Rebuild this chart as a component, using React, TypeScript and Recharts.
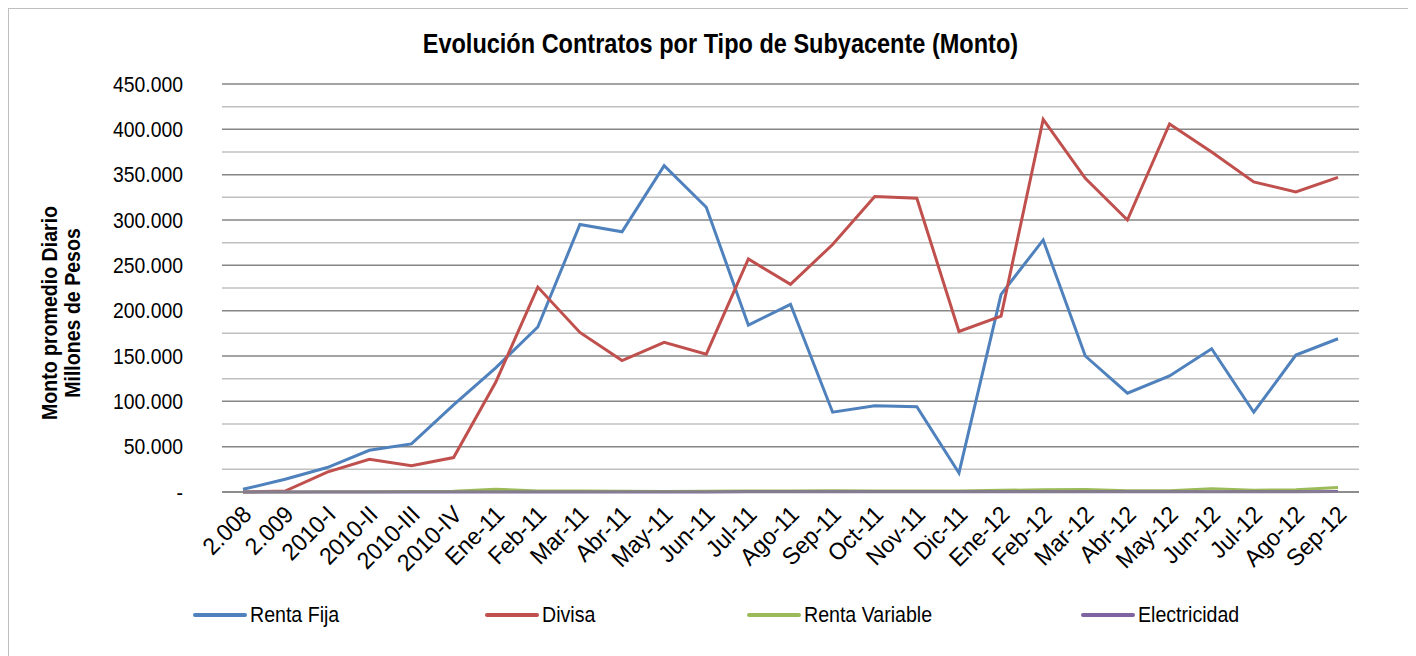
import { LineChart, Line, XAxis, YAxis, CartesianGrid, ReferenceLine, Legend, Label } from 'recharts'

const categories = [
  '2.008', '2.009', '2010-I', '2010-II', '2010-III', '2010-IV',
  'Ene-11', 'Feb-11', 'Mar-11', 'Abr-11', 'May-11', 'Jun-11', 'Jul-11', 'Ago-11', 'Sep-11', 'Oct-11', 'Nov-11', 'Dic-11',
  'Ene-12', 'Feb-12', 'Mar-12', 'Abr-12', 'May-12', 'Jun-12', 'Jul-12', 'Ago-12', 'Sep-12',
]

const rentaFija = [
  3000, 14000, 27000, 46000, 53000, 96000,
  137000, 182000, 295000, 287000, 360000, 314000, 184000, 207000, 88000, 95000, 94000, 21000,
  218000, 278000, 150000, 109000, 128000, 158000, 88000, 151000, 169000,
]

const divisa = [
  0, 1000, 22000, 36000, 29000, 38000,
  121000, 226000, 176000, 145000, 165000, 152000, 257000, 229000, 273000, 326000, 324000, 177000,
  194000, 411000, 346000, 300000, 406000, 375000, 342000, 331000, 347000,
]

const rentaVariable = [
  0, 0, 200, 400, 500, 800,
  3000, 1200, 1000, 800, 600, 800, 1000, 1200, 1500, 1200, 1000, 1200,
  1800, 2500, 2800, 1500, 1500, 3500, 2000, 2500, 5000,
]

const electricidad = [
  0, 0, 0, 0, 0, 0,
  0, 0, 100, 100, 100, 100, 200, 200, 200, 200, 200, 200,
  200, 300, 300, 300, 300, 400, 400, 400, 500,
]

const majorTicks = [0, 50000, 100000, 150000, 200000, 250000, 300000, 350000, 400000, 450000]
const minorTicks = [25000, 75000, 125000, 175000, 225000, 275000, 325000, 375000, 425000]

const series = [
  { key: 'rentaFija', name: 'Renta Fija', color: '#4F81BD' },
  { key: 'divisa', name: 'Divisa', color: '#C0504D' },
  { key: 'rentaVariable', name: 'Renta Variable', color: '#9BBB59' },
  { key: 'electricidad', name: 'Electricidad', color: '#8064A2' },
]

// legend item x positions (Excel spreads them unevenly)
const legendLeft = [185, 477, 739, 1073]

// no narrow font installed, so text gets squeezed with scaleX
const FONT = '"Liberation Sans", Arial, sans-serif'

const data = categories.map((c, i) => ({
  name: c,
  rentaFija: rentaFija[i],
  divisa: divisa[i],
  rentaVariable: rentaVariable[i],
  electricidad: electricidad[i],
}))

const fmt = (v: number) => (v === 0 ? '-' : String(v).replace(/\B(?=(\d{3})+(?!\d))/g, '.'))

function XTick({ x, y, payload }: any) {
  return (
    <g transform={`translate(${x + 4},${y + 10}) rotate(-45) scale(0.95,1)`}>
      <text x={0} y={0} dy="0.35em" textAnchor="end" fill="#000" fontSize={24} fontFamily={FONT}>
        {payload.value}
      </text>
    </g>
  )
}

function YTick({ x, y, payload }: any) {
  return (
    <text transform={`translate(${x},${y}) scale(0.88,1)`} dy="0.35em" textAnchor="end" fill="#000" fontSize={22} fontFamily={FONT}>
      {fmt(payload.value)}
    </text>
  )
}

function YLabel() {
  return (
    <g fontFamily={FONT} fontWeight="bold" fontSize={22} fill="#000">
      <text transform="translate(41,305) rotate(-90) scale(0.89,1)" textAnchor="middle" dy="0.35em">Monto promedio Diario</text>
      <text transform="translate(64,305) rotate(-90) scale(0.89,1)" textAnchor="middle" dy="0.35em">Millones de Pesos</text>
    </g>
  )
}

function LegendContent() {
  return (
    <div style={{ position: 'relative', width: 1400, height: 30, fontFamily: FONT, fontSize: 22 }}>
      {series.map((s, i) => (
        <div key={s.key} style={{ position: 'absolute', left: legendLeft[i], top: 0, height: 30, display: 'flex', alignItems: 'center' }}>
          <div style={{ width: 54, height: 4, background: s.color, borderRadius: 2, marginRight: 3 }} />
          <span style={{ display: 'inline-block', transform: 'scaleX(0.89)', transformOrigin: 'left center', whiteSpace: 'nowrap' }}>{s.name}</span>
        </div>
      ))}
    </div>
  )
}

export default function App() {
  return (
    <div style={{ position: 'relative', width: 1400, height: 648 }}>
      <div style={{ position: 'absolute', left: -1, top: -1, width: 1409, height: 649, borderLeft: '2px solid #bfbfbf', borderTop: '2px solid #bfbfbf', boxSizing: 'border-box', pointerEvents: 'none' }} />
      <div style={{ position: 'absolute', left: 0, top: 20, width: 1425, textAlign: 'center', fontFamily: FONT, fontWeight: 'bold', fontSize: 28 }}>
        <span style={{ display: 'inline-block', transform: 'scaleX(0.84)', whiteSpace: 'nowrap' }}>
          Evolución Contratos por Tipo de Subyacente (Monto)
        </span>
      </div>
      <LineChart width={1400} height={648} data={data} margin={{ top: 76, right: 49, bottom: 0, left: 0 }}>
        <CartesianGrid vertical={false} stroke="#868686" strokeWidth={1.5} />
        {minorTicks.map((t) => (
          <ReferenceLine key={t} y={t} stroke="#c0c0c0" strokeWidth={1.5} />
        ))}
        <XAxis
          dataKey="name"
          interval={0}
          height={164}
          padding={{ left: 21, right: 21 }}
          tickLine={false}
          axisLine={{ stroke: '#868686', strokeWidth: 1.5 }}
          tick={<XTick />}
        />
        <YAxis
          width={214}
          domain={[0, 450000]}
          ticks={majorTicks}
          axisLine={false}
          tickLine={false}
          tickSize={6}
          tickMargin={33}
          tick={<YTick />}
        >
          <Label content={<YLabel />} />
        </YAxis>
        {series.map((s) => (
          <Line key={s.key} dataKey={s.key} name={s.name} stroke={s.color} strokeWidth={3} dot={false} type="linear" isAnimationActive={false} />
        ))}
        <Legend layout="horizontal" verticalAlign="middle" align="center" wrapperStyle={{ top: 592, left: 0, width: 1400 }} content={<LegendContent />} />
      </LineChart>
    </div>
  )
}
